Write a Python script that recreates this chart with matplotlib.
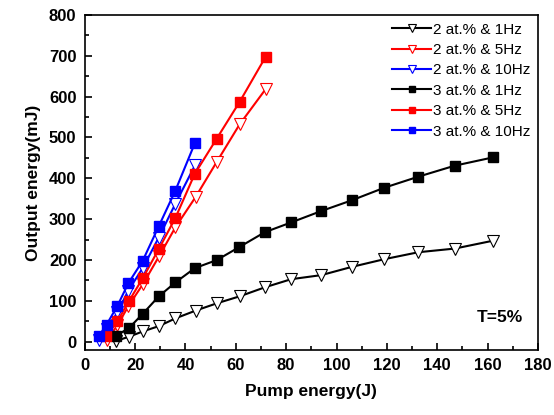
import matplotlib
matplotlib.use("Agg")
import matplotlib.pyplot as plt
from matplotlib.ticker import MultipleLocator

plt.rcParams["font.family"] = ["Liberation Sans", "DejaVu Sans"]

# 2 at.% samples (open triangles)
x_2_1 = [12.5, 17.5, 23, 29.4, 36, 44, 52.5, 61.5, 71.5, 82, 94, 106, 119, 132.5, 147, 162]
y_2_1 = [2, 12, 25, 38, 57, 76, 94, 111, 133, 153, 163, 183, 202, 219, 228, 247]
x_2_5 = [8.7, 13, 17.3, 23, 29.5, 36, 44, 52.4, 61.5, 71.8]
y_2_5 = [4, 40, 87, 140, 209, 280, 354, 440, 532, 618]
x_2_10 = [5.7, 8.7, 13, 17.3, 23, 29.4, 36, 43.8]
y_2_10 = [5, 30, 72, 125, 180, 255, 338, 432]

# 3 at.% samples (filled squares)
x_3_1 = [12.5, 17.5, 23, 29.4, 36, 43.7, 52.5, 61.2, 71.5, 82, 94, 106, 119, 132.5, 147, 162]
y_3_1 = [15, 33, 68, 111, 145, 180, 200, 231, 268, 292, 320, 346, 377, 404, 431, 451]
x_3_5 = [8.5, 13, 17.5, 23, 29.5, 36, 43.7, 52.4, 61.5, 71.8]
y_3_5 = [13, 50, 99, 155, 228, 303, 411, 497, 587, 697]
x_3_10 = [5.5, 8.7, 13, 17.3, 23, 29.5, 36, 43.8]
y_3_10 = [13, 42, 88, 143, 198, 284, 370, 487]

labels = ["2 at.% & 1Hz", "2 at.% & 5Hz", "2 at.% & 10Hz",
          "3 at.% & 1Hz", "3 at.% & 5Hz", "3 at.% & 10Hz"]
colors = ["black", "red", "blue"]

fig = plt.figure(figsize=(5.54, 4.15), dpi=100)
ax = fig.add_axes([0.153, 0.157, 0.818, 0.807])

series_2 = [(x_2_1, y_2_1), (x_2_5, y_2_5), (x_2_10, y_2_10)]
series_3 = [(x_3_1, y_3_1), (x_3_5, y_3_5), (x_3_10, y_3_10)]

for i, (x, y) in enumerate(series_2):
    ax.plot(x, y, "-", color=colors[i], lw=1.5, marker="v", ms=8,
            mfc="white", mec=colors[i], mew=0.8, label=labels[i])
for i, (x, y) in enumerate(series_3):
    ax.plot(x, y, "-", color=colors[i], lw=1.5, marker="s", ms=6.5,
            mfc=colors[i], mec=colors[i], label=labels[3 + i])

ax.set_xlim(0, 180)
ax.set_ylim(-20, 800)
ax.xaxis.set_major_locator(MultipleLocator(20))
ax.xaxis.set_minor_locator(MultipleLocator(10))
ax.yaxis.set_major_locator(MultipleLocator(100))
ax.yaxis.set_minor_locator(MultipleLocator(50))
ax.tick_params(which="both", direction="in", top=False, right=False, width=1.2)
ax.tick_params(which="major", length=5, labelsize=12, pad=6)
ax.tick_params(which="minor", length=3)
for lbl in ax.get_xticklabels() + ax.get_yticklabels():
    lbl.set_fontweight("bold")
for s in ax.spines.values():
    s.set_linewidth(1.2)

ax.set_xlabel("Pump energy(J)", fontsize=12.5, fontweight="bold", labelpad=8)
ax.set_ylabel("Output energy(mJ)", fontsize=12.5, fontweight="bold", labelpad=6)

ax.text(0.916, 0.096, "T=5%", transform=ax.transAxes, ha="center",
        va="center", fontsize=12.5, fontweight="bold")

leg = ax.legend(loc="upper right", frameon=False, fontsize=11,
                handlelength=2.6, handletextpad=0.1, labelspacing=0.42,
                borderaxespad=0.1, markerscale=0.75)

plt.savefig("out.png", dpi=100)
